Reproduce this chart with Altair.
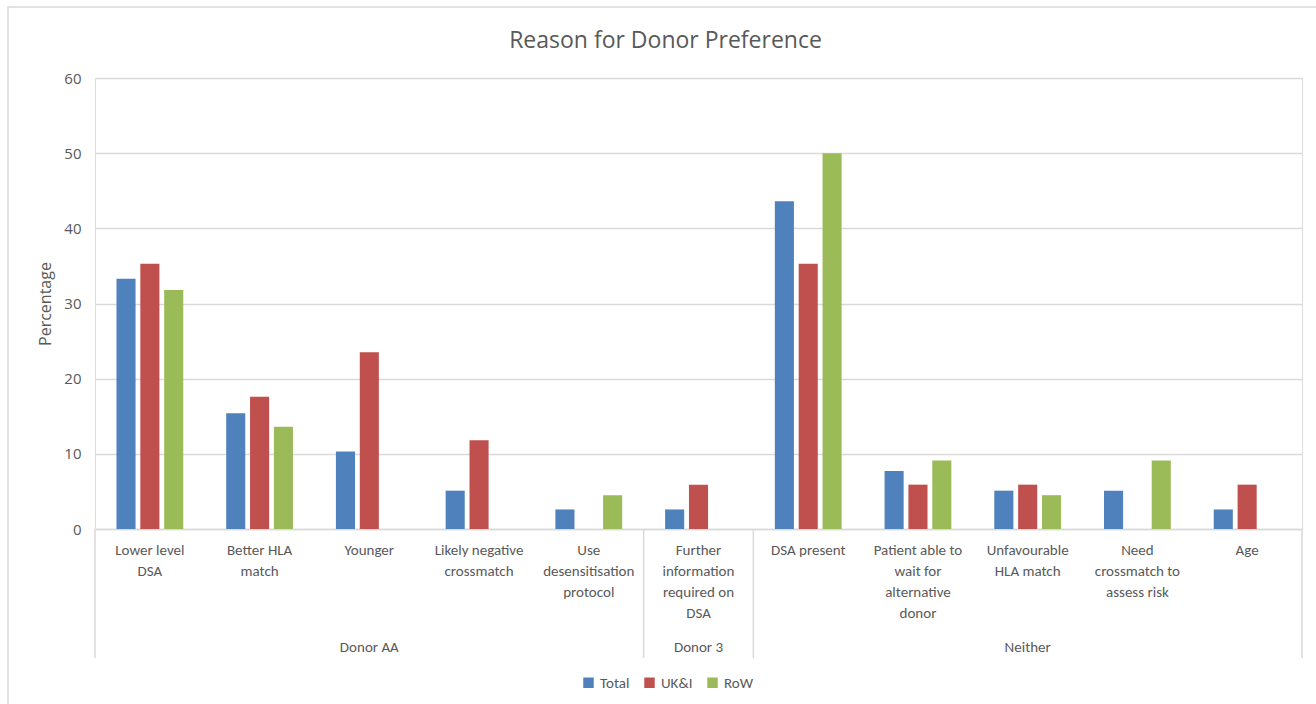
import altair as alt
import pandas as pd

# ---- data ----
groups = ["Donor AA", "Donor AA", "Donor AA", "Donor AA", "Donor AA",
          "Donor 3",
          "Neither", "Neither", "Neither", "Neither", "Neither"]
categories = ["Lower level|DSA", "Better HLA|match", "Younger", "Likely negative|crossmatch",
              "Use|desensitisation|protocol", "Further|information|required on|DSA",
              "DSA present", "Patient able to|wait for|alternative|donor",
              "Unfavourable|HLA match", "Need|crossmatch to|assess risk", "Age"]
series = ["Total", "UK&I", "RoW"]
total = [33.3, 15.4, 10.3, 5.1, 2.6, 2.6, 43.6, 7.7, 5.1, 5.1, 2.6]
ukni = [35.3, 17.6, 23.5, 11.8, 0.0, 5.9, 35.3, 5.9, 5.9, 0.0, 5.9]
row = [31.8, 13.6, 0.0, 0.0, 4.5, 0.0, 50.0, 9.1, 4.5, 9.1, 0.0]
colors = ["#4f81bd", "#c0504d", "#9bbb59"]
y_ticks = [0, 10, 20, 30, 40, 50, 60]
title_text = "Reason for Donor Preference"

# ---- tables ----
rows = []
for vals, s in zip([total, ukni, row], series):
    for c, g, v in zip(categories, groups, vals):
        rows.append({"cat": c, "group": g, "series": s, "value": v})
bars_df = pd.DataFrame(rows)
cat_df = pd.DataFrame({"cat": categories, "group": groups})

group_names = []
for g in groups:
    if g not in group_names:
        group_names.append(g)
starts, mids = [], []
for g in group_names:
    members = [c for c, gg in zip(categories, groups) if gg == g]
    starts.append(members[0])
    mids.append(members[len(members) // 2])
start_df = pd.DataFrame({"cat": starts})
end_df = pd.DataFrame({"cat": [categories[-1]]})
glabel_df = pd.DataFrame({"cat": mids, "group": group_names})

W, H = 1207, 451
GRAY = "#595959"
LINE = "#d9d9d9"
LABEL_FONT = "Carlito, Liberation Sans Narrow, Noto Sans, sans-serif"

xscale = alt.Scale(domain=categories, paddingInner=0, paddingOuter=0)

bars = alt.Chart(bars_df).mark_bar().encode(
    x=alt.X("cat:N", scale=xscale, sort=categories,
            axis=alt.Axis(labels=False, ticks=False, title=None, domain=True,
                          domainColor=LINE, domainWidth=1.5, grid=False)),
    xOffset=alt.XOffset("series:N", sort=series,
                        scale=alt.Scale(domain=series, paddingInner=0.2, paddingOuter=0.9)),
    y=alt.Y("value:Q", scale=alt.Scale(domain=[0, 60], nice=False),
            axis=alt.Axis(values=y_ticks, title="Percentage", grid=True, gridColor=LINE,
                          gridWidth=1.5, domain=False, ticks=False, labelPadding=14,
                          labelFontSize=15, labelColor=GRAY, labelFont="Open Sans",
                          titleFontSize=16, titleFontWeight="normal", titleColor=GRAY,
                          titleFont="Open Sans", titlePadding=10)),
    color=alt.Color("series:N", sort=series,
                    scale=alt.Scale(domain=series, range=colors),
                    legend=alt.Legend(title=None, orient="none", direction="horizontal",
                                      legendX=486, legendY=597, symbolType="square",
                                      symbolSize=110, symbolStrokeWidth=0,
                                      labelFontSize=15, labelColor=GRAY, labelFont=LABEL_FONT,
                                      columnPadding=12, labelOffset=4)),
)

cat_labels = alt.Chart(cat_df).mark_text(
    baseline="top", align="center", fontSize=15, color=GRAY, font=LABEL_FONT,
    lineBreak="|", lineHeight=21
).encode(
    x=alt.X("cat:N", scale=xscale, sort=categories),
    y=alt.value(H + 14),
    text="cat:N",
)

group_labels = alt.Chart(glabel_df).mark_text(
    baseline="middle", align="center", fontSize=15, color=GRAY, font=LABEL_FONT
).encode(
    x=alt.X("cat:N", scale=xscale, sort=categories),
    y=alt.value(H + 118),
    text="group:N",
)

sep_start = alt.Chart(start_df).mark_rule(color=LINE, strokeWidth=1.5).encode(
    x=alt.X("cat:N", scale=xscale, sort=categories, bandPosition=0),
    y=alt.value(H),
    y2=alt.value(H + 129),
)
sep_end = alt.Chart(end_df).mark_rule(color=LINE, strokeWidth=1.5).encode(
    x=alt.X("cat:N", scale=xscale, sort=categories, bandPosition=1),
    y=alt.value(H),
    y2=alt.value(H + 129),
)

frame = alt.Chart(pd.DataFrame({"f": [0]})).mark_rect(
    fill=None, stroke=LINE, strokeWidth=1.5
).encode(
    x=alt.value(-87), x2=alt.value(W + 40),
    y=alt.value(-71), y2=alt.value(H + 200),
)

title = alt.Chart(pd.DataFrame({"t": [title_text]})).mark_text(
    align="center", baseline="middle", fontSize=23, font="Open Sans", color=GRAY
).encode(
    x=alt.value(W / 2 - 33),
    y=alt.value(-37),
    text="t:N",
)

chart = alt.layer(frame, bars, sep_start, sep_end, cat_labels, group_labels, title).properties(
    width=W, height=H,
    autosize=alt.AutoSizeParams(type="none"),
    padding={"left": 95, "top": 78, "right": 14, "bottom": 175},
).configure_view(stroke=None).configure(background="white")

chart.save("out.html", embed_options={"renderer": "svg", "actions": False})
